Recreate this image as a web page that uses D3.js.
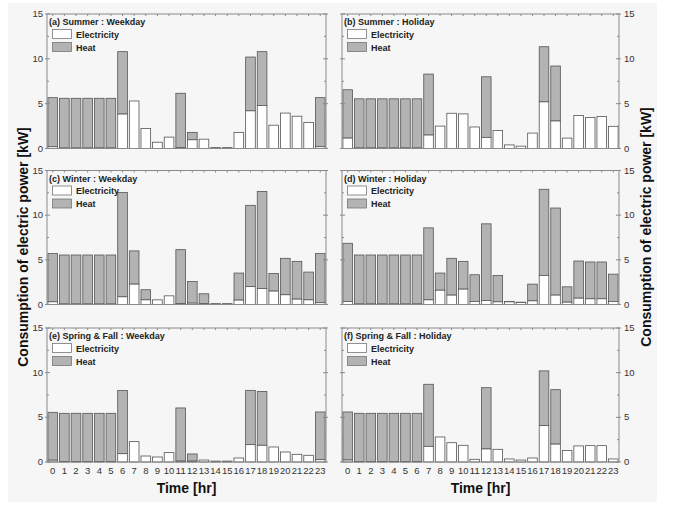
<!DOCTYPE html>
<html><head><meta charset="utf-8">
<script src="https://cdn.jsdelivr.net/npm/d3@7"></script>
<style>body{margin:0;background:#fff}svg{display:block}text{font-family:"Liberation Sans",Arial,sans-serif}</style>
</head><body><svg id="c" width="678" height="510"></svg>
<script>
const hours = d3.range(24).map(String);
const yTicks = [0, 5, 10, 15];
const titles = ["(a) Summer : Weekday","(b) Summer : Holiday","(c) Winter : Weekday","(d) Winter : Holiday","(e) Spring & Fall : Weekday","(f) Spring & Fall : Holiday"];
const legendLabels = ["Electricity","Heat"];
// totals (electricity + heat) and electricity part, kW
const totalA = [5.67,5.6,5.6,5.6,5.6,5.6,10.8,5.3,2.24,0.7,1.27,6.16,1.8,1.04,0.1,0.1,1.8,10.2,10.8,2.6,3.95,3.6,2.9,5.67];
const elecA  = [0.2,0.05,0.05,0.05,0.05,0.05,3.84,5.3,2.24,0.7,1.27,0.1,0.97,1.04,0.1,0.1,1.8,4.2,4.8,2.6,3.95,3.6,2.9,0.2];
const totalB = [6.55,5.54,5.54,5.54,5.54,5.54,5.54,8.3,2.5,3.93,3.86,2.4,8.0,2.0,0.4,0.26,1.72,11.35,9.2,1.16,3.67,3.45,3.56,2.47];
const elecB  = [1.16,0.05,0.05,0.05,0.05,0.05,0.05,1.5,2.5,3.93,3.86,2.4,1.24,2.0,0.4,0.26,1.72,5.2,3.07,1.16,3.67,3.45,3.56,2.47];
const totalC = [5.7,5.54,5.54,5.54,5.54,5.54,12.55,6.0,1.65,0.52,0.97,6.14,2.58,1.2,0.1,0.1,3.52,11.1,12.66,3.48,5.17,4.83,3.63,5.7];
const elecC  = [0.3,0.05,0.05,0.05,0.05,0.05,0.86,2.28,0.52,0.52,0.97,0.1,0.15,0.1,0.1,0.1,0.49,2.0,1.8,1.5,1.09,0.6,0.52,0.2];
const totalD = [6.85,5.54,5.54,5.54,5.54,5.54,5.54,8.58,3.52,5.17,4.83,3.33,9.03,3.26,0.34,0.26,2.28,12.9,10.8,1.98,4.87,4.76,4.76,3.4];
const elecD  = [0.34,0.05,0.05,0.05,0.05,0.05,0.05,0.52,1.6,1.05,1.72,0.34,0.45,0.3,0.3,0.22,0.41,3.26,1.05,0.26,0.71,0.64,0.64,0.34];
const totalE = [5.56,5.45,5.45,5.45,5.45,5.45,8.0,2.28,0.67,0.56,1.05,6.05,0.9,0.22,0.1,0.1,0.45,8.02,7.9,1.68,1.12,0.86,0.75,5.6];
const elecE  = [0.2,0.05,0.05,0.05,0.05,0.05,0.93,2.28,0.67,0.56,1.05,0.1,0.1,0.22,0.1,0.1,0.45,1.94,1.87,1.68,1.12,0.86,0.75,0.26];
const totalF = [5.6,5.45,5.45,5.45,5.45,5.45,5.45,8.7,2.8,2.16,1.87,0.3,8.32,1.42,0.34,0.22,0.45,10.2,8.1,1.3,1.8,1.83,1.83,0.34];
const elecF  = [0.22,0.05,0.05,0.05,0.05,0.05,0.05,1.75,2.8,2.16,1.87,0.3,1.46,1.42,0.34,0.22,0.45,4.07,2.0,1.3,1.8,1.83,1.83,0.34];

const panelsData = [[totalA,elecA],[totalB,elecB],[totalC,elecC],[totalD,elecD],[totalE,elecE],[totalF,elecF]];

const svg = d3.select("#c");
svg.append("rect").attr("x",8).attr("y",3).attr("width",649).attr("height",499).attr("fill","#f6f6f6");

const cols = [[47,326],[342,619]];
const rows = [[14,148.5],[170.5,304.5],[328,462]];
const HEAT = "#b3b3b3", STROKE = "#555", FRAME = "#8a8a8a", TXT = "#333";

panelsData.forEach((pd, i) => {
  const col = i % 2, row = Math.floor(i / 2);
  const [x0, x1] = cols[col], [y0, y1] = rows[row];
  const x = d3.scaleBand().domain(hours).range([x0, x1]).paddingInner(0.17).paddingOuter(0.08);
  const y = d3.scaleLinear().domain([0, 15]).range([y1, y0]);
  const g = svg.append("g");
  const [tot, el] = pd;
  // heat (stacked on electricity)
  g.selectAll("rect.h").data(hours).join("rect")
    .attr("x", d => x(d)).attr("width", x.bandwidth())
    .attr("y", (d, k) => y(tot[k])).attr("height", (d, k) => Math.max(0, y(el[k]) - y(tot[k])))
    .attr("fill", HEAT).attr("stroke", STROKE).attr("stroke-width", 0.8);
  g.selectAll("rect.e").data(hours).join("rect")
    .attr("x", d => x(d)).attr("width", x.bandwidth())
    .attr("y", (d, k) => y(el[k])).attr("height", (d, k) => y(0) - y(el[k]))
    .attr("fill", "#fff").attr("stroke", STROKE).attr("stroke-width", 0.8);
  // frame
  g.append("rect").attr("x", x0).attr("y", y0).attr("width", x1 - x0).attr("height", y1 - y0)
    .attr("fill", "none").attr("stroke", FRAME).attr("stroke-width", 1);
  // top ticks at each hour
  g.selectAll("line.tt").data(hours).join("line")
    .attr("x1", d => x(d) + x.bandwidth() / 2).attr("x2", d => x(d) + x.bandwidth() / 2)
    .attr("y1", y0).attr("y2", y0 + 2).attr("stroke", FRAME);
  // y ticks on both sides
  const minor = [2.5, 7.5, 12.5];
  [x0, x1].forEach((xx, s) => {
    const dir = s === 0 ? 1 : -1;
    g.selectAll(null).data(yTicks).join("line")
      .attr("x1", xx - 2 * dir).attr("x2", xx + 3 * dir)
      .attr("y1", d => y(d)).attr("y2", d => y(d)).attr("stroke", FRAME);
    g.selectAll(null).data(minor).join("line")
      .attr("x1", xx).attr("x2", xx + 2 * dir)
      .attr("y1", d => y(d)).attr("y2", d => y(d)).attr("stroke", FRAME);
  });
  // y labels on outer side
  g.selectAll(null).data(yTicks).join("text")
    .attr("x", col === 0 ? x0 - 4 : x1 + 5).attr("y", d => y(d) + 3)
    .attr("text-anchor", col === 0 ? "end" : "start")
    .attr("font-size", 9.5).attr("fill", TXT).text(d => d);
  // x labels on bottom row
  if (row === 2) {
    g.selectAll(null).data(hours).join("text")
      .attr("x", d => x(d) + x.bandwidth() / 2).attr("y", y1 + 12)
      .attr("text-anchor", "middle").attr("font-size", 9.5).attr("fill", TXT)
      .attr("textLength", d => d.length > 1 ? 10.5 : null).attr("lengthAdjust", "spacingAndGlyphs")
      .text(d => d);
    g.append("text").attr("x", (x0 + x1) / 2).attr("y", 493).attr("text-anchor", "middle")
      .attr("font-size", 14).attr("font-weight", "bold").attr("fill", "#111").text("Time [hr]");
  }
  // legend
  const lx = x0 + 2;
  g.append("text").attr("x", lx).attr("y", y0 + 11).attr("font-size", 9).attr("font-weight", "bold")
    .attr("fill", "#222").text(titles[i]);
  legendLabels.forEach((lab, k) => {
    g.append("rect").attr("x", x0 + 5.5).attr("y", y0 + 15.5 + k * 13).attr("width", 19).attr("height", 9)
      .attr("fill", k === 0 ? "#fff" : HEAT).attr("stroke", "#777").attr("stroke-width", 0.8);
    g.append("text").attr("x", x0 + 29).attr("y", y0 + 23.5 + k * 13).attr("font-size", 9).attr("font-weight", "bold")
      .attr("fill", "#222").text(lab);
  });
});

// y titles
svg.append("text").attr("transform", "translate(28,247) rotate(-90)").attr("text-anchor", "middle")
  .attr("font-size", 14).attr("font-weight", "bold").attr("fill", "#111").text("Consumption of electric power [kW]");
svg.append("text").attr("transform", "translate(651,227) rotate(-90)").attr("text-anchor", "middle")
  .attr("font-size", 14).attr("font-weight", "bold").attr("fill", "#111").text("Consumption of electric power [kW]");
</script></body></html>
